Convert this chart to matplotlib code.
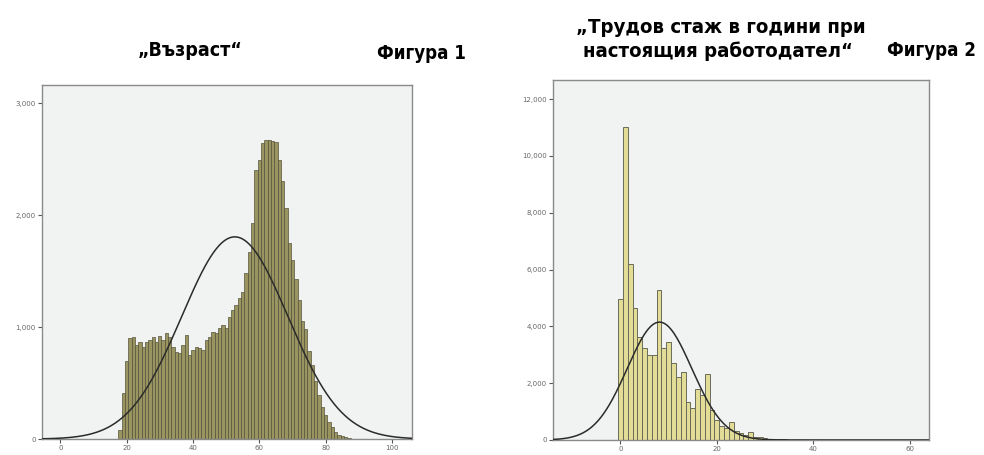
import matplotlib
matplotlib.use("Agg")
import matplotlib.pyplot as plt
import numpy as np
from matplotlib.ticker import FuncFormatter
from matplotlib import font_manager

# --- Фигура 1: възраст (bins of 1 year, centred on integers)
age_start = 18
age_counts = [80, 410, 700, 900, 910, 840, 866, 820, 866, 880,
              910, 866, 920, 880, 950, 910, 820, 780, 765, 840,
              930, 750, 795, 820, 810, 795, 880, 910, 955, 945,
              990, 1020, 990, 1090, 1150, 1196, 1259, 1315, 1480, 1672,
              1930, 2400, 2490, 2640, 2670, 2670, 2660, 2650, 2490, 2300,
              2060, 1750, 1600, 1430, 1240, 1050, 980, 790, 660, 520,
              393, 289, 214, 155, 110, 65, 36, 25, 15, 8,
              5, 3, 2]
age_mean, age_sd, age_n = 52.6, 16.0, 72400

# --- Фигура 2: трудов стаж
exp_start = 0
exp_counts = [4970, 11025, 6190, 4630, 3640, 3250, 2990, 2990, 5290, 3225,
              3460, 2720, 2210, 2405, 1350, 1114, 1782, 1583, 2340, 1050,
              720, 500, 420, 620, 300, 260, 180, 290, 120, 95,
              60, 45, 35, 28, 20, 15, 10, 8, 6, 5,
              4, 3, 2, 2, 1]
exp_mean, exp_sd, exp_n = 8.1, 6.7, 69700

BG = '#f1f2f2'

# pick a narrow bold face if one is installed
names = {f.name for f in font_manager.fontManager.ttflist}
condensed = [f for f in font_manager.fontManager.ttflist
             if f.name == 'DejaVu Sans' and 'ondensed' in str(f.stretch) + f.fname]
if 'Liberation Sans Narrow' in names:
    TITLE_KW = dict(family=['Liberation Sans Narrow', 'DejaVu Sans'])
    size = 15
elif condensed:
    TITLE_KW = dict(family='DejaVu Sans', fontstretch='condensed')
    size = 14
else:
    TITLE_KW = dict(family='DejaVu Sans')
    size = 12.5


def comma(v, pos):
    return '{:,.0f}'.format(v)


def hist_panel(ax, start, counts, mean, sd, n, xlim, ylim, xticks, yticks,
               face, edge, lw):
    centers = np.arange(start, start + len(counts))
    ax.bar(centers, counts, width=1.0, color=face, edgecolor=edge,
           linewidth=lw, zorder=2)
    xs = np.linspace(xlim[0], xlim[1], 400)
    ys = n / (sd * np.sqrt(2 * np.pi)) * np.exp(-0.5 * ((xs - mean) / sd) ** 2)
    ax.plot(xs, ys, color='#2b2b2b', lw=1.1, zorder=3)
    ax.set_xlim(*xlim)
    ax.set_ylim(*ylim)
    ax.set_xticks(xticks)
    ax.set_yticks(yticks)
    ax.yaxis.set_major_formatter(FuncFormatter(comma))
    ax.set_facecolor(BG)
    for s in ax.spines.values():
        s.set_color('#8a8a8a')
        s.set_linewidth(1.0)
    ax.tick_params(length=3, width=0.8, color='#555555', labelsize=5,
                   labelcolor='#666666', pad=1.5)


fig = plt.figure(figsize=(9.84, 4.55), dpi=100)

ax1 = fig.add_axes([0.0427, 0.035, 0.376, 0.778])
hist_panel(ax1, age_start, age_counts, age_mean, age_sd, age_n,
           (-5.5, 106), (0, 3160), [0, 20, 40, 60, 80, 100],
           [0, 1000, 2000, 3000], '#9a9560', '#55533c', 0.5)

ax2 = fig.add_axes([0.562, 0.033, 0.382, 0.791])
hist_panel(ax2, exp_start, exp_counts, exp_mean, exp_sd, exp_n,
           (-14, 64), (0, 12670), [0, 20, 40, 60],
           [0, 2000, 4000, 6000, 8000, 10000, 12000], '#e2dc97', '#6b6b5a', 0.7)

fig.text(0.193, 0.89, '„Възраст“', ha='center', va='center',
         fontweight='bold', fontsize=size, **TITLE_KW)
fig.text(0.428, 0.883, 'Фигура 1', ha='center', va='center',
         fontweight='bold', fontsize=size * 0.96, **TITLE_KW)
fig.text(0.733, 0.94, '„Трудов стаж в години при', ha='center', va='center',
         fontweight='bold', fontsize=size * 1.04, **TITLE_KW)
fig.text(0.730, 0.888, 'настоящия работодател“', ha='center', va='center',
         fontweight='bold', fontsize=size * 1.04, **TITLE_KW)
fig.text(0.947, 0.888, 'Фигура 2', ha='center', va='center',
         fontweight='bold', fontsize=size * 0.96, **TITLE_KW)

fig.savefig('out.png', dpi=100)
